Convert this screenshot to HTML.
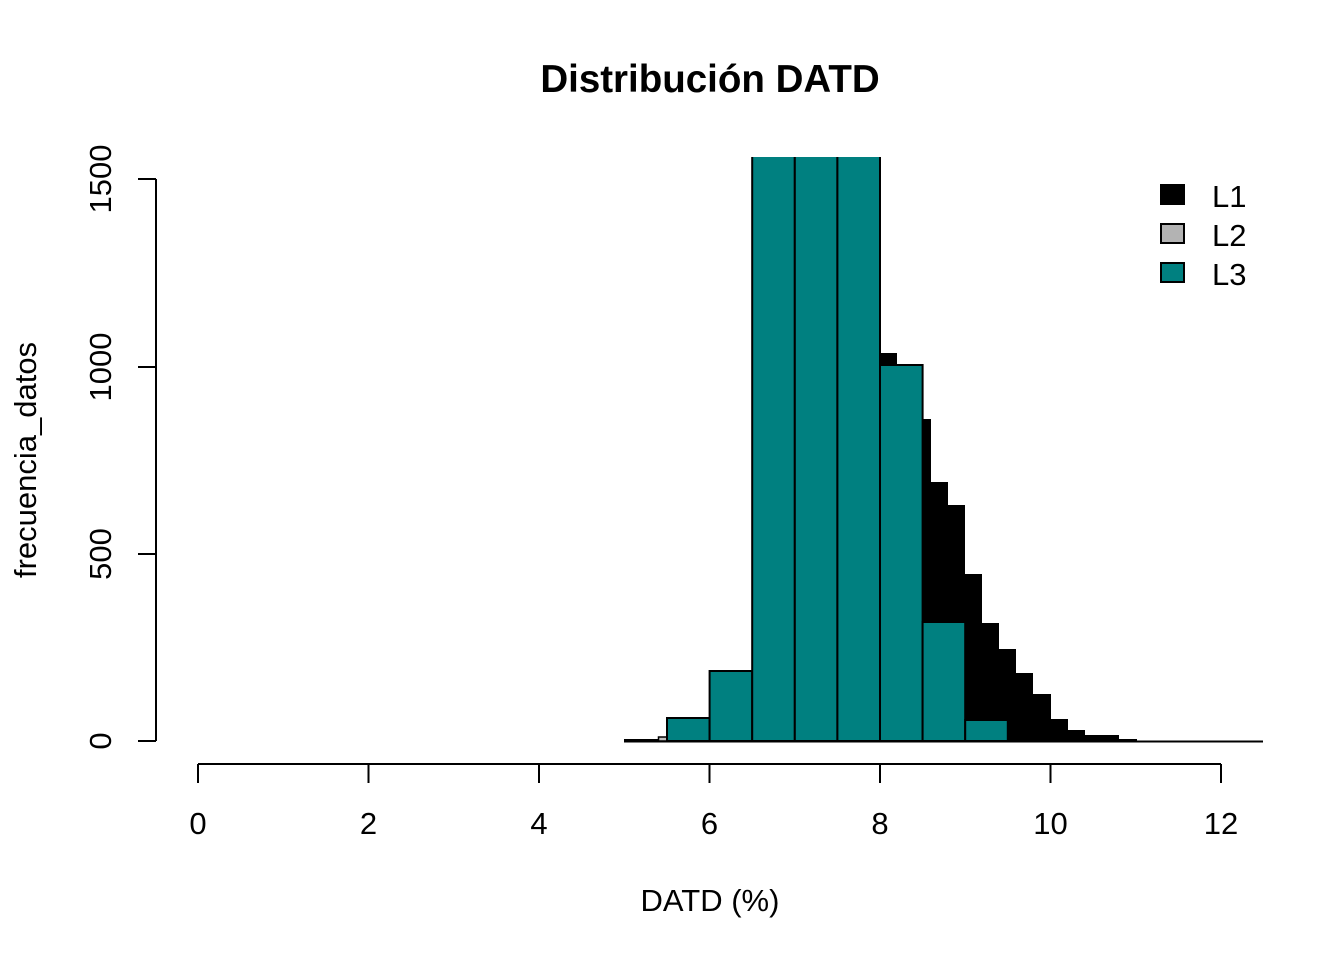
<!DOCTYPE html>
<html><head><meta charset="utf-8"><style>html,body{margin:0;padding:0;background:#fff}svg{display:block}</style></head>
<body>
<svg width="1344" height="960" viewBox="0 0 1344 960" xmlns="http://www.w3.org/2000/svg" font-family="Liberation Sans, Arial, sans-serif">
<rect width="1344" height="960" fill="#fff"/>
<text x="710" y="92" font-size="38.5" font-weight="bold" text-anchor="middle">Distribución DATD</text>
<defs><clipPath id="c"><rect x="156" y="157" width="1110" height="600"/></clipPath></defs>
<g clip-path="url(#c)">
<g fill="#000">
<rect x="624" y="739" width="34" height="2"/>
<rect x="880" y="353" width="17" height="388"/>
<rect x="897" y="364" width="17" height="377"/>
<rect x="914" y="419" width="17" height="322"/>
<rect x="931" y="482" width="17" height="259"/>
<rect x="948" y="505" width="17" height="236"/>
<rect x="965" y="574" width="17" height="167"/>
<rect x="982" y="623" width="17" height="118"/>
<rect x="999" y="649" width="17" height="92"/>
<rect x="1016" y="673" width="17" height="68"/>
<rect x="1033" y="694" width="18" height="47"/>
<rect x="1051" y="719" width="17" height="22"/>
<rect x="1068" y="730" width="17" height="11"/>
<rect x="1085" y="735" width="34" height="6"/>
<rect x="1119" y="739" width="18" height="2"/>
</g>
<rect x="658.5" y="737" width="8.5" height="4" fill="#bebebe" stroke="#000" stroke-width="1.5"/>
<g fill="#008080" stroke="#000" stroke-width="2">
<rect x="667" y="718" width="42.6" height="23"/>
<rect x="709.6" y="671" width="42.6" height="70"/>
<rect x="752.2" y="150" width="42.6" height="591"/>
<rect x="794.8" y="150" width="42.6" height="591"/>
<rect x="837.4" y="150" width="42.6" height="591"/>
<rect x="880" y="365" width="42.6" height="376"/>
<rect x="922.6" y="622" width="42.6" height="119"/>
<rect x="965.2" y="720" width="42.6" height="21"/>
</g>
<line x1="624" y1="741.5" x2="1263" y2="741.5" stroke="#000" stroke-width="2"/>
</g>
<g stroke="#000" stroke-width="2" fill="none">
<line x1="156" y1="179" x2="156" y2="741"/>
<line x1="138" y1="179" x2="156" y2="179"/>
<line x1="138" y1="367" x2="156" y2="367"/>
<line x1="138" y1="554" x2="156" y2="554"/>
<line x1="138" y1="741" x2="156" y2="741"/>
<line x1="198" y1="764" x2="1221" y2="764"/>
<line x1="198" y1="764" x2="198" y2="783"/>
<line x1="368.5" y1="764" x2="368.5" y2="783"/>
<line x1="539" y1="764" x2="539" y2="783"/>
<line x1="709.5" y1="764" x2="709.5" y2="783"/>
<line x1="880" y1="764" x2="880" y2="783"/>
<line x1="1050.5" y1="764" x2="1050.5" y2="783"/>
<line x1="1221" y1="764" x2="1221" y2="783"/>
</g>
<g font-size="31" text-anchor="middle">
<text x="198" y="834">0</text>
<text x="368.5" y="834">2</text>
<text x="539" y="834">4</text>
<text x="709.5" y="834">6</text>
<text x="880" y="834">8</text>
<text x="1050.5" y="834">10</text>
<text x="1221" y="834">12</text>
<text x="710" y="911">DATD (%)</text>
<text transform="translate(111,741) rotate(-90)">0</text>
<text transform="translate(111,554) rotate(-90)">500</text>
<text transform="translate(111,367) rotate(-90)">1000</text>
<text transform="translate(111,179) rotate(-90)">1500</text>
<text transform="translate(36,460) rotate(-90)">frecuencia_datos</text>
</g>
<rect x="1161" y="185" width="23" height="19" fill="#000" stroke="#000" stroke-width="2"/>
<rect x="1161" y="224" width="23" height="19" fill="#b3b3b3" stroke="#000" stroke-width="2"/>
<rect x="1161" y="263" width="23" height="19" fill="#008080" stroke="#000" stroke-width="2"/>
<g font-size="31">
<text x="1212" y="207">L1</text>
<text x="1212" y="246">L2</text>
<text x="1212" y="285">L3</text>
</g>
</svg>
</body></html>
